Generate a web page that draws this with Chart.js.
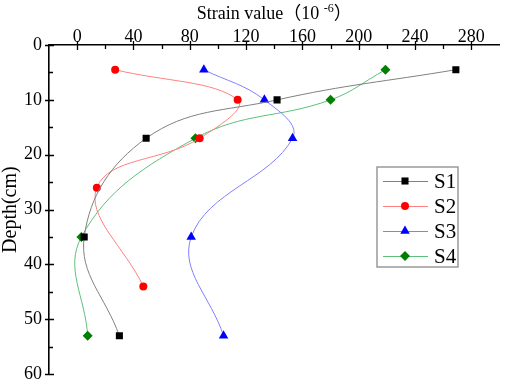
<!DOCTYPE html>
<html>
<head>
<meta charset="utf-8">
<script src="https://cdn.jsdelivr.net/npm/chart.js@4.4.0/dist/chart.umd.min.js"></script>
<style>
  html, body { margin: 0; padding: 0; background: #fff; }
  #wrap { width: 505px; height: 392px; }
</style>
</head>
<body>
<div id="wrap"><canvas id="chart" width="505" height="392"></canvas></div>
<script>
// depths (cm) of the gauges
const depths = [4.5, 10, 17, 35, 53];
const depthsS2 = [4.5, 10, 17, 26, 44];

// strain values (10^-6)
const s1 = [269, 142, 49, 5, 30];
const s2 = [27, 114, 87, 14, 47];
const s3 = [90, 133, 153, 81, 104];
const s4 = [219, 180, 84, 3, 7.5];

const seriesNames = ['S1', 'S2', 'S3', 'S4'];
const xTicks = [0, 40, 80, 120, 160, 200, 240, 280];
const yTicks = [0, 10, 20, 30, 40, 50, 60];

const serif = '"Liberation Serif", "Times New Roman", "Noto Sans CJK SC", serif';

function toPoints(xs, ys) {
  return xs.map((v, i) => ({ x: v, y: ys[i] }));
}

const styles = [
  { line: '#808080', fill: '#000000', shape: 'rect', r: 5 },
  { line: '#ff8080', fill: '#ff0000', shape: 'circle', r: 4 },
  { line: '#8080ff', fill: '#0000ff', shape: 'triangle', r: 5.5 },
  { line: '#5cc07a', fill: '#008000', shape: 'rectRot', r: 5 }
];

const values = [s1, s2, s3, s4];
const datasets = values.map((vals, i) => ({
  label: seriesNames[i],
  data: toPoints(vals, i === 1 ? depthsS2 : depths),
  showLine: true,
  tension: 0.4,
  borderColor: styles[i].line,
  borderWidth: 1,
  pointStyle: styles[i].shape,
  pointRadius: styles[i].r,
  pointBackgroundColor: styles[i].fill,
  pointBorderColor: styles[i].fill,
  pointBorderWidth: 0
}));

// marker shape for the legend
function marker(ctx, shape, x, y, r, color) {
  ctx.fillStyle = color;
  ctx.beginPath();
  if (shape === 'rect') {
    const h = r * Math.SQRT1_2;
    ctx.rect(x - h, y - h, 2 * h, 2 * h);
  } else if (shape === 'circle') {
    ctx.arc(x, y, r, 0, Math.PI * 2);
  } else if (shape === 'triangle') {
    ctx.moveTo(x, y - r);
    ctx.lineTo(x + r * Math.sin(Math.PI / 3), y + r / 2);
    ctx.lineTo(x - r * Math.sin(Math.PI / 3), y + r / 2);
    ctx.closePath();
  } else {
    ctx.moveTo(x, y - r);
    ctx.lineTo(x + r, y);
    ctx.lineTo(x, y + r);
    ctx.lineTo(x - r, y);
    ctx.closePath();
  }
  ctx.fill();
}

const decor = {
  id: 'decor',
  afterDraw(chart) {
    const ctx = chart.ctx;
    const xs = chart.scales.x;
    const ys = chart.scales.y;
    const area = chart.chartArea;
    ctx.save();

    // inward tick marks (major cross the axis)
    ctx.strokeStyle = '#000';
    ctx.lineWidth = 1.3;
    ctx.beginPath();
    for (let v = 0; v <= 280; v += 20) {
      const px = Math.round(xs.getPixelForValue(v)) + 0.5;
      const major = v % 40 === 0;
      ctx.moveTo(px, area.top - (major ? 4 : 0));
      ctx.lineTo(px, area.top + (major ? 5 : 4));
    }
    for (let v = 0; v <= 60; v += 5) {
      const py = Math.round(ys.getPixelForValue(v)) + 0.5;
      const major = v % 10 === 0;
      ctx.moveTo(area.left - (major ? 4 : 0), py);
      ctx.lineTo(area.left + (major ? 5 : 4), py);
    }
    ctx.stroke();

    // axis titles
    ctx.fillStyle = '#000';
    ctx.textBaseline = 'alphabetic';
    ctx.textAlign = 'left';
    const p1 = 'Strain value（10 ';
    const p2 = '-6';
    const p3 = '）';
    ctx.font = '18px ' + serif;
    const w1 = ctx.measureText(p1).width;
    const w3 = ctx.measureText(p3).width;
    ctx.font = '12px ' + serif;
    const w2 = ctx.measureText(p2).width;
    const cx = (area.left + area.right) / 2;
    let tx = cx - (w1 + w2 + w3) / 2;
    ctx.font = '18px ' + serif;
    ctx.fillText(p1, tx, 19);
    ctx.font = '12px ' + serif;
    ctx.fillText(p2, tx + w1, 12);
    ctx.font = '18px ' + serif;
    ctx.fillText(p3, tx + w1 + w2, 19);

    ctx.save();
    ctx.translate(11, (area.top + area.bottom) / 2);
    ctx.rotate(-Math.PI / 2);
    ctx.textAlign = 'center';
    ctx.textBaseline = 'middle';
    ctx.font = '20px ' + serif;
    ctx.fillText('Depth(cm)', 0, 0);
    ctx.restore();

    // legend box
    const bx = 377, by = 167, bw = 81, bh = 100;
    ctx.strokeStyle = '#999';
    ctx.lineWidth = 1.5;
    ctx.strokeRect(bx, by, bw, bh);
    ctx.font = '21px ' + serif;
    ctx.textBaseline = 'middle';
    seriesNames.forEach((name, i) => {
      const ry = by + 14 + i * 25;
      ctx.strokeStyle = styles[i].line;
      ctx.lineWidth = 1;
      ctx.beginPath();
      ctx.moveTo(bx + 6, ry + 0.5);
      ctx.lineTo(bx + 51, ry + 0.5);
      ctx.stroke();
      marker(ctx, styles[i].shape, bx + 28, ry, styles[i].r, styles[i].fill);
      ctx.fillStyle = '#000';
      ctx.fillText(name, bx + 57, ry + 1);
    });
    ctx.restore();
  }
};

const tickFont = { family: serif, size: 18 };

new Chart(document.getElementById('chart'), {
  type: 'scatter',
  data: { datasets: datasets },
  options: {
    responsive: false,
    animation: false,
    devicePixelRatio: 1,
    layout: { padding: { left: 0, top: 0, right: 3, bottom: 9 } },
    plugins: {
      legend: { display: false },
      tooltip: { enabled: false }
    },
    scales: {
      x: {
        type: 'linear',
        position: 'top',
        min: -20,
        max: 300,
        afterBuildTicks: s => { s.ticks = xTicks.map(v => ({ value: v })); },
        afterFit: s => { s.height = 45; },
        ticks: { font: tickFont, color: '#000', padding: -3, maxRotation: 0, autoSkip: false },
        grid: { drawOnChartArea: false, drawTicks: false },
        border: { color: '#000', width: 1.6 }
      },
      y: {
        type: 'linear',
        reverse: true,
        min: 0,
        max: 60,
        afterBuildTicks: s => { s.ticks = yTicks.map(v => ({ value: v })); },
        afterFit: s => { s.width = 49; },
        ticks: { font: tickFont, color: '#000', padding: 7, autoSkip: false },
        grid: { drawOnChartArea: false, drawTicks: false },
        border: { color: '#000', width: 1.6 }
      }
    }
  },
  plugins: [decor]
});
</script>
</body>
</html>
